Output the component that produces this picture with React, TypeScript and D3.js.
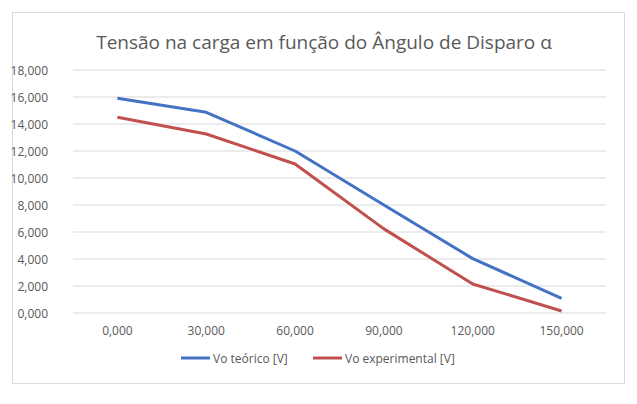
import React from "react";
import { scaleBand, scaleLinear, line, range } from "d3";

const categories = ["0,000", "30,000", "60,000", "90,000", "120,000", "150,000"];
const voTeorico = [15900, 14870, 12000, 8000, 4030, 1090];
const voExperimental = [14500, 13260, 11040, 6230, 2150, 150];
const yTicks = range(0, 18001, 2000);
const seriesNames = ["Vo teórico [V]", "Vo experimental [V]"];
const colors = ["#4472c4", "#c0504d"];

const App = () => {
  const width = 637;
  const height = 404;
  const plotLeft = 73;
  const plotRight = 606;
  const plotTop = 70;
  const plotBottom = 313;
  const font = "'Open Sans', 'Liberation Sans', sans-serif";

  // scales
  const xScale = scaleBand<string>()
    .domain(categories)
    .range([plotLeft, plotRight]);
  const yScale = scaleLinear().domain([0, 18000]).range([plotBottom, plotTop]);
  const cx = (c: string) => (xScale(c) as number) + xScale.bandwidth() / 2;

  const path = line<number>()
    .x((_, i) => cx(categories[i]))
    .y((d) => yScale(d));

  const gridlines = yTicks.map((t) => (
    <g key={t}>
      <line x1={plotLeft} x2={plotRight} y1={yScale(t)} y2={yScale(t)} stroke="#d9d9d9" />
      <text x={48} y={yScale(t) + 4.5} textAnchor="end" fontSize={12} fill="#595959">
        {t === 0 ? "0,000" : `${t / 1000},000`}
      </text>
    </g>
  ));

  const xLabels = categories.map((c) => (
    <text key={c} x={cx(c)} y={335} textAnchor="middle" fontSize={12} fill="#595959">
      {c}
    </text>
  ));

  const legendX = [181, 313];

  return (
    <svg
      width={width}
      height={height}
      viewBox={`0 0 ${width} ${height}`}
      style={{ position: "absolute", left: 0, top: 0, fontFamily: font }}
    >
      <rect x={0} y={0} width={width} height={height} fill="#fff" />
      <rect x={12.5} y={12.5} width={612} height={371} fill="#fff" stroke="#d9d9d9" />
      <text x={324} y={49} textAnchor="middle" fontSize={19} fill="#595959">
        Tensão na carga em função do Ângulo de Disparo α
      </text>
      {gridlines}
      {xLabels}
      {[voTeorico, voExperimental].map((s, i) => (
        <path
          key={i}
          d={path(s) || ""}
          fill="none"
          stroke={colors[i]}
          strokeWidth={3}
          strokeLinejoin="round"
        />
      ))}
      {seriesNames.map((n, i) => (
        <g key={n}>
          <line x1={legendX[i]} x2={legendX[i] + 29} y1={358} y2={358} stroke={colors[i]} strokeWidth={3} />
          <text x={legendX[i] + 32} y={362.5} fontSize={12} fill="#595959">
            {n}
          </text>
        </g>
      ))}
    </svg>
  );
};

export default App;
